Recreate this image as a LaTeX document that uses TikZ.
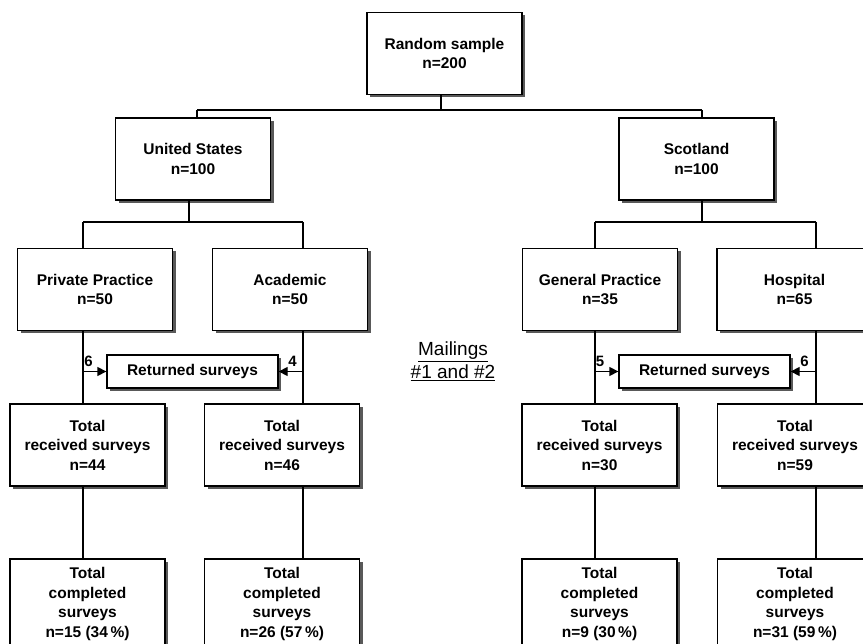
\documentclass[tikz,border=0pt]{standalone}
\usepackage{fontspec}
\setmainfont{Liberation Sans}
\usetikzlibrary{shadows,arrows.meta}
\begin{document}
\begin{tikzpicture}[x=1pt,y=-1pt,
  box/.style={draw=black, line width=1.3pt, fill=white, inner sep=0pt,
    minimum width=155pt, minimum height=82pt, align=center,
    font=\fontsize{15.5}{19.5}\selectfont\bfseries,
    drop shadow={shadow xshift=3pt, shadow yshift=-3pt, fill=black!65, opacity=1}},
  bigbox/.style={box, minimum height=90pt},
  retbox/.style={box, minimum width=171pt, minimum height=33pt},
  conn/.style={draw=black, line width=1.3pt},
  arr/.style={conn, -{Triangle[length=9pt,width=9pt]}},
  num/.style={font=\fontsize{15}{16}\selectfont\bfseries, inner sep=0pt}]
\useasboundingbox (0,0) rectangle (863,644);
\clip (0,0) rectangle (863,644);
% level 1
\node[box] (top) at (444.5,53.5) {Random sample\\n=200};
% level 2
\node[box] (us) at (193,159) {United States\\n=100};
\node[box] (sc) at (696.5,159) {Scotland\\n=100};
% level 3
\node[box] (pp) at (95,289.5) {Private Practice\\n=50};
\node[box] (ac) at (290,289.5) {Academic\\n=50};
\node[box] (gp) at (600,289.5) {General Practice\\n=35};
\node[box] (ho) at (794.5,289.5) {Hospital\\n=65};
% returned
\node[retbox] (ret1) at (192.5,371.5) {Returned surveys};
\node[retbox] (ret2) at (704.5,371.5) {Returned surveys};
% level 4
\node[box] (rpp) at (87.5,445) {Total\\received surveys\\n=44};
\node[box] (rac) at (282,445) {Total\\received surveys\\n=46};
\node[box] (rgp) at (599.5,445) {Total\\received surveys\\n=30};
\node[box] (rho) at (795,445) {Total\\received surveys\\n=59};
% level 5
\node[bigbox] (cpp) at (87.5,604) {Total\\completed\\surveys\\n=15 (34\,\%)};
\node[bigbox] (cac) at (282,604) {Total\\completed\\surveys\\n=26 (57\,\%)};
\node[bigbox] (cgp) at (599.5,604) {Total\\completed\\surveys\\n=9 (30\,\%)};
\node[bigbox] (cho) at (795,604) {Total\\completed\\surveys\\n=31 (59\,\%)};
% mailings
\node[align=center, font=\fontsize{19}{23}\selectfont, inner sep=0pt] (mail) at (453,361.5)
  {\underline{Mailings}\\\underline{\#1 and \#2}};
% junctions
\coordinate (j0) at (441,110);
\coordinate (jUS) at (197,110);
\coordinate (jSC) at (702,110);
\coordinate (kUS) at (189,222);
\coordinate (kSC) at (702,222);
\coordinate (kPP) at (83,222);
\coordinate (kAC) at (303,222);
\coordinate (kGP) at (595,222);
\coordinate (kHO) at (816,222);
% connectors level 1-2
\draw[conn] (top.south -| j0) -- (j0);
\draw[conn] (jUS) -- (jSC);
\draw[conn] (jUS) -- (jUS |- us.north);
\draw[conn] (jSC) -- (jSC |- sc.north);
% level 2-3
\draw[conn] (us.south -| kUS) -- (kUS);
\draw[conn] (sc.south -| kSC) -- (kSC);
\draw[conn] (kPP) -- (kAC);
\draw[conn] (kGP) -- (kHO);
\draw[conn] (kPP) -- (kPP |- pp.north);
\draw[conn] (kAC) -- (kAC |- ac.north);
\draw[conn] (kGP) -- (kGP |- gp.north);
\draw[conn] (kHO) -- (kHO |- ho.north);
% level 3-4
\draw[conn] (pp.south -| kPP) -- (rpp.north -| kPP);
\draw[conn] (ac.south -| kAC) -- (rac.north -| kAC);
\draw[conn] (gp.south -| kGP) -- (rgp.north -| kGP);
\draw[conn] (ho.south -| kHO) -- (rho.north -| kHO);
% returned arrows
\draw[arr] (ret1.west -| kPP) -- (ret1.west);
\draw[arr] (ret1.east -| kAC) -- (ret1.east);
\draw[arr] (ret2.west -| kGP) -- (ret2.west);
\draw[arr] (ret2.east -| kHO) -- (ret2.east);
\node[num] (n1) at (88.5,361) {6};
\node[num] (n2) at (292.5,361) {4};
\node[num] (n3) at (600,361) {5};
\node[num] (n4) at (804.5,361) {6};
% level 4-5
\draw[conn] (rpp.south -| kPP) -- (cpp.north -| kPP);
\draw[conn] (rac.south -| kAC) -- (cac.north -| kAC);
\draw[conn] (rgp.south -| kGP) -- (cgp.north -| kGP);
\draw[conn] (rho.south -| kHO) -- (cho.north -| kHO);
\end{tikzpicture}
\end{document}
